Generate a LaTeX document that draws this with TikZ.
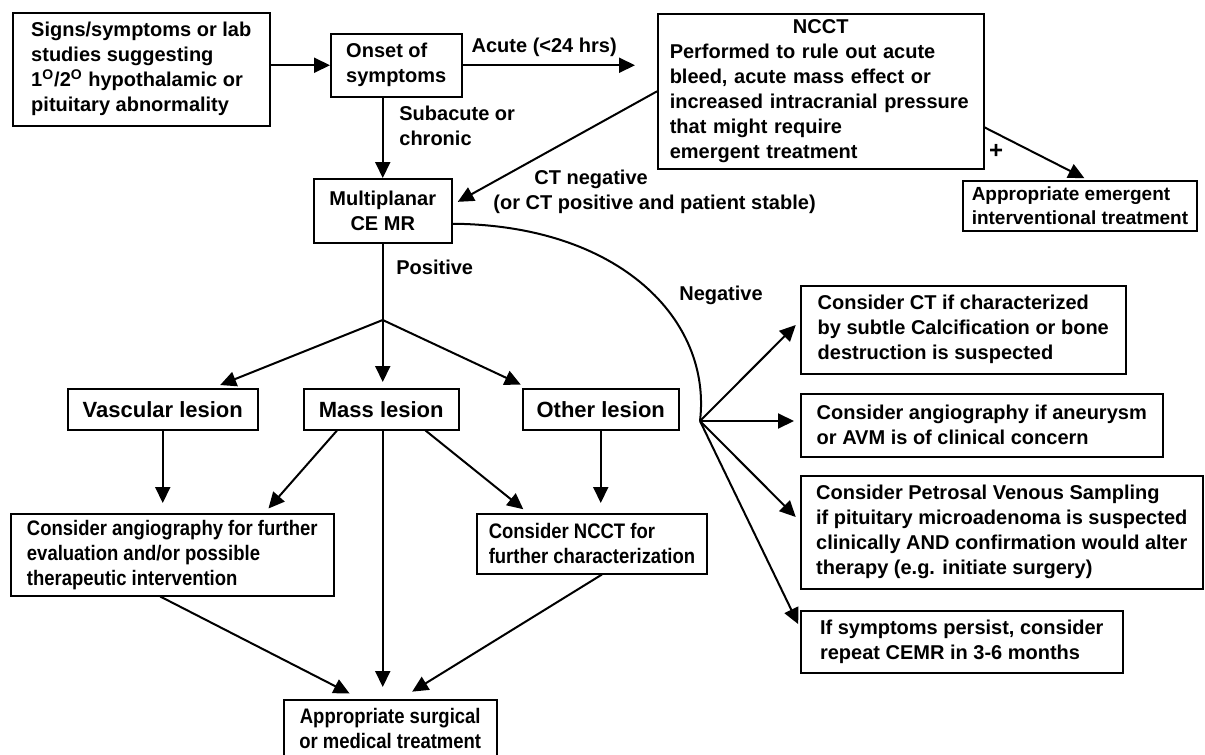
\documentclass[tikz,border=0pt]{standalone}
\usepackage{fontspec}
\setmainfont{Liberation Sans}
\newfontfamily\narrowfont[FakeStretch=0.88]{Liberation Sans}
\usetikzlibrary{arrows.meta,calc}

\begin{document}
\begin{tikzpicture}[x=0.5pt, y=-0.5pt,
    box/.style={draw, line width=0.75pt, anchor=north west, align=left,
      inner xsep=6pt, inner ysep=3pt, font=\bfseries\fontsize{10}{12.5}\selectfont},
    narrowbox/.style={box, font=\narrowfont\bfseries\fontsize{10.5}{12.5}\selectfont},
    lesion/.style={box, align=center, minimum height=20.5pt,
      font=\bfseries\fontsize{11}{13}\selectfont},
    lbl/.style={font=\bfseries\fontsize{10}{12.5}\selectfont, inner sep=1pt},
    arr/.style={line width=1pt, -{Triangle[length=8pt,width=7.5pt]}},
    link/.style={line width=1pt}]
        \useasboundingbox (0,0) rectangle (1205,755);
        % Boxes
        \node[box, minimum width=128.5pt, minimum height=56.5pt] (signs) at (12,12)
          {Signs/symptoms or lab\\studies suggesting\\1\textsuperscript{O}/2\textsuperscript{O} hypothalamic or\\pituitary abnormality};
        \node[box, minimum width=65.5pt, minimum height=31.5pt] (onset) at (330,33) {Onset of\\symptoms};
        \node[box, text width=151pt, minimum height=76pt] (ncct) at (657,13)
          {\makebox[151pt]{NCCT}\\Performed to rule out acute\\bleed, acute mass effect or\\increased intracranial pressure\\that might require\\emergent treatment};
        \node[box, inner xsep=4.5pt, minimum width=113pt, minimum height=25pt,
          font=\bfseries\fontsize{9.5}{12}\selectfont] (emerg) at (962,180)
          {Appropriate emergent\\interventional treatment};
        \node[box, align=center, minimum width=69pt, minimum height=32pt] (mpr) at (313,178) {Multiplanar\\CE MR};
        \node[lesion, minimum width=95pt] (vasc) at (67,388) {Vascular lesion};
        \node[lesion, minimum width=77.5pt] (mass) at (303,388) {Mass lesion};
        \node[lesion, minimum width=78pt] (other) at (522,388) {Other lesion};
        \node[narrowbox, minimum width=161.5pt, minimum height=41pt] (angio) at (10,513)
          {Consider angiography for further\\evaluation and/or possible\\therapeutic intervention};
        \node[narrowbox, minimum width=112pt, minimum height=30pt] (nccttwo) at (476,513)
          {Consider NCCT for\\further characterization};
        \node[narrowbox, align=center, minimum width=106.5pt, minimum height=29pt] (surg) at (283,699)
          {Appropriate surgical\\or medical treatment};
        \node[box, minimum width=162.5pt, minimum height=44pt] (ct) at (800,285)
          {Consider CT if characterized\\by subtle Calcification or bone\\destruction is suspected};
        \node[box, minimum width=181pt, minimum height=31.5pt] (angr) at (800,393)
          {Consider angiography if aneurysm\\or AVM is of clinical concern};
        \node[box, minimum width=201pt, minimum height=56.5pt] (petr) at (800,475)
          {Consider Petrosal Venous Sampling\\if pituitary microadenoma is suspected\\clinically AND confirmation would alter\\therapy (e.g. initiate surgery)};
        \node[box, minimum width=161pt, minimum height=31pt] (ifs) at (800,610)
          {If symptoms persist, consider\\repeat CEMR in 3-6 months};
        % Top row
        \draw[arr] (signs.east |- onset.west) -- (onset.west);
        \draw[arr, shorten >=11pt] (onset.east) -- (onset.east -| ncct.west)
          node[lbl, pos=0.42, above=3pt] (acute) {Acute (<24 hrs)};
        \draw[arr] (mpr.north |- onset.south) -- (mpr.north);
        \node[lbl, align=left, anchor=west] (subac) at (397,126) {Subacute or\\chronic};
        \draw[arr, shorten >=3pt] (ncct.west) -- ([yshift=3pt]mpr.east);
        \node[lbl, align=left, anchor=west] (ctneg) at (491,192)
          {\hspace*{20.5pt}CT negative\\(or CT positive and patient stable)};
        \draw[arr, shorten >=2pt] ([yshift=-18pt]ncct.east) -- ([xshift=4pt]emerg.north);
        \node[lbl, font=\bfseries\fontsize{12}{12}\selectfont] (plus) at (996,151) {+};
        % Positive branch
        \coordinate (br) at (mpr.south |- 0,320);
        \draw[link] (mpr.south) -- (br);
        \node[lbl, anchor=west] (pos) at (394,267) {Positive};
        \draw[arr, shorten >=4pt] (br) -- ([xshift=25pt]vasc.north);
        \draw[arr, shorten >=3pt] (br) -- (br |- mass.north);
        \draw[arr, shorten >=4pt] (br) -- ([xshift=3pt]other.north west);
        \draw[arr, shorten >=5pt] (vasc.south) -- (vasc.south |- angio.north);
        \draw[arr, shorten >=3pt] ([xshift=17pt]mass.south west) -- ([xshift=-35pt]angio.north east);
        \draw[arr, shorten >=3pt] ([xshift=-17pt]mass.south east) -- ([xshift=26pt]nccttwo.north west);
        \draw[arr, shorten >=6pt] (br |- mass.south) -- (br |- surg.north);
        \draw[arr, shorten >=5pt] (other.south) -- (other.south |- nccttwo.north);
        \draw[arr, shorten >=6pt] ([xshift=-6pt]angio.south) -- ([xshift=-15pt]surg.north);
        \draw[arr, shorten >=7pt] ([xshift=5pt]nccttwo.south) -- ([xshift=5pt]surg.north);
        % Negative branch
        \coordinate (fan) at (700,421);
        \draw[link] ([yshift=-6.5pt]mpr.east) .. controls (620,225) and (712,320) .. (fan);
        \node[lbl] (neg) at (721,295) {Negative};
        \draw[arr, shorten >=3pt] (fan) -- ([yshift=4.5pt]ct.west);
        \draw[arr, shorten >=3pt] (fan) -- (fan -| angr.west);
        \draw[arr, shorten >=3pt] (fan) -- ([yshift=5.5pt]petr.west);
        \draw[arr, shorten >=2pt] (fan) -- ([yshift=7pt]ifs.west);
      \end{tikzpicture}
\end{document}
